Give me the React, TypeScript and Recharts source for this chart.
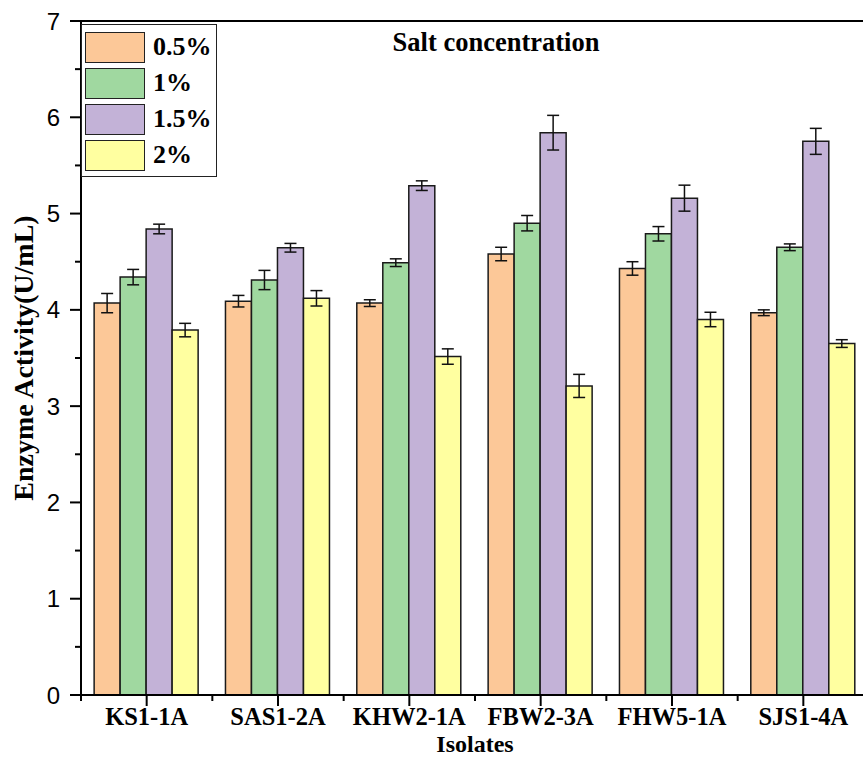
import { Bar, BarChart, ErrorBar, Legend, ReferenceLine, XAxis, YAxis } from "recharts"

// isolates on the x axis
const isolates = ["KS1-1A", "SAS1-2A", "KHW2-1A", "FBW2-3A", "FHW5-1A", "SJS1-4A"]

// enzyme activity (U/mL) per salt concentration, with error values
const salt05 = [4.07, 4.09, 4.07, 4.58, 4.43, 3.97]
const salt05Err = [0.1, 0.06, 0.035, 0.07, 0.07, 0.03]
const salt1 = [4.34, 4.31, 4.49, 4.9, 4.79, 4.65]
const salt1Err = [0.08, 0.1, 0.04, 0.08, 0.075, 0.035]
const salt15 = [4.84, 4.645, 5.29, 5.84, 5.16, 5.75]
const salt15Err = [0.05, 0.045, 0.05, 0.18, 0.135, 0.135]
const salt2 = [3.79, 4.12, 3.515, 3.21, 3.9, 3.65]
const salt2Err = [0.07, 0.08, 0.08, 0.12, 0.075, 0.04]

const yTicks = [0, 0.5, 1, 1.5, 2, 2.5, 3, 3.5, 4, 4.5, 5, 5.5, 6, 6.5, 7]

const series = [
  { key: "s05", name: "0.5%", color: "#FCC898" },
  { key: "s1", name: "1%", color: "#A0D8A0" },
  { key: "s15", name: "1.5%", color: "#C3B2D7" },
  { key: "s2", name: "2%", color: "#FFFFA0" },
]

const data = isolates.map((name, i) => ({
  name,
  s05: salt05[i],
  s05e: salt05Err[i],
  s1: salt1[i],
  s1e: salt1Err[i],
  s15: salt15[i],
  s15e: salt15Err[i],
  s2: salt2[i],
  s2e: salt2Err[i],
}))

const CHART_W = 870
const CHART_H = 757
const AXIS_W = 81
const MARGIN = { top: 21, right: 1, left: 0, bottom: 0 }
const band = (CHART_W - AXIS_W - MARGIN.left - MARGIN.right) / isolates.length

const serif = "'Liberation Serif', 'Times New Roman', serif"
const sans = "'Liberation Sans', Arial, sans-serif"

function YTick(props: any) {
  const { x, y, payload } = props
  const major = Number.isInteger(payload.value)
  return (
    <g>
      <line x1={x} x2={x - (major ? 11 : 6)} y1={y} y2={y} stroke="#000" strokeWidth={2} />
      {major && (
        <text x={x - 21} y={y} dy="0.36em" textAnchor="end" fontFamily={sans} fontSize={24} fill="#000">
          {payload.value}
        </text>
      )}
    </g>
  )
}

function XTick(props: any) {
  const { x, y, payload } = props
  return (
    <g>
      <line x1={x} x2={x} y1={y} y2={y + 11} stroke="#000" strokeWidth={2} />
      <line x1={x - band / 2} x2={x - band / 2} y1={y} y2={y + 6} stroke="#000" strokeWidth={2} />
      <text x={x} y={y + 30} textAnchor="middle" fontFamily={serif} fontWeight="bold" fontSize={24.5} fill="#000">
        {payload.value}
      </text>
    </g>
  )
}

function LegendBox() {
  return (
    <div
      style={{
        border: "1px solid #222",
        background: "#fff",
        padding: "4px 4px 3px 3px",
        fontFamily: serif,
        fontWeight: "bold",
        fontSize: 26,
      }}
    >
      {series.map((s) => (
        <div key={s.key} style={{ display: "flex", alignItems: "center", height: 36 }}>
          <div
            style={{
              width: 58,
              height: 29,
              background: s.color,
              border: "1.5px solid #222",
              marginRight: 8,
            }}
          />
          <span>{s.name}</span>
        </div>
      ))}
    </div>
  )
}

export default function App() {
  return (
    <div
      style={{
        position: "absolute",
        left: 0,
        top: 0,
        width: 863,
        height: 757,
        overflow: "hidden",
        background: "#fff",
      }}
    >
      <BarChart
        width={CHART_W}
        height={CHART_H}
        data={data}
        margin={MARGIN}
        barCategoryGap="10%"
        barGap={0}
      >
        <XAxis
          dataKey="name"
          height={62}
          tick={<XTick />}
          tickSize={0}
          tickMargin={0}
          tickLine={false}
          axisLine={{ stroke: "#000", strokeWidth: 2 }}
          interval={0}
        />
        <YAxis
          width={AXIS_W}
          domain={[0, 7]}
          ticks={yTicks}
          interval={0}
          tick={<YTick />}
          tickSize={0}
          tickMargin={0}
          tickLine={false}
          axisLine={{ stroke: "#000", strokeWidth: 2 }}
        />
        <ReferenceLine y={7} stroke="#000" strokeWidth={2} />
        {series.map((s) => (
          <Bar
            key={s.key}
            dataKey={s.key}
            name={s.name}
            fill={s.color}
            stroke="#1a1a1a"
            strokeWidth={1.5}
            isAnimationActive={false}
          >
            <ErrorBar dataKey={s.key + "e"} width={6} stroke="#111" strokeWidth={1.5} />
          </Bar>
        ))}
        <Legend
          layout="vertical"
          align="center"
          verticalAlign="middle"
          content={() => <LegendBox />}
          wrapperStyle={{ left: 81, top: 24, width: "auto" }}
        />
      </BarChart>
      <div
        style={{
          position: "absolute",
          left: 475,
          top: 29,
          transform: "translateX(-50%)",
          whiteSpace: "nowrap",
          fontFamily: serif,
          fontWeight: "bold",
          fontSize: 26.5,
          lineHeight: "26px",
          marginLeft: 21,
        }}
      >
        Salt concentration
      </div>
      <div
        style={{
          position: "absolute",
          left: 475,
          top: 730.5,
          transform: "translateX(-50%)",
          whiteSpace: "nowrap",
          fontFamily: serif,
          fontWeight: "bold",
          fontSize: 24,
          lineHeight: "normal",
        }}
      >
        Isolates
      </div>
      <div
        style={{
          position: "absolute",
          left: 24,
          top: 358,
          transform: "translate(-50%, -50%) rotate(-90deg)",
          whiteSpace: "nowrap",
          fontFamily: serif,
          fontWeight: "bold",
          fontSize: 28,
          lineHeight: "28px",
        }}
      >
        Enzyme Activity(U/mL)
      </div>
    </div>
  )
}
